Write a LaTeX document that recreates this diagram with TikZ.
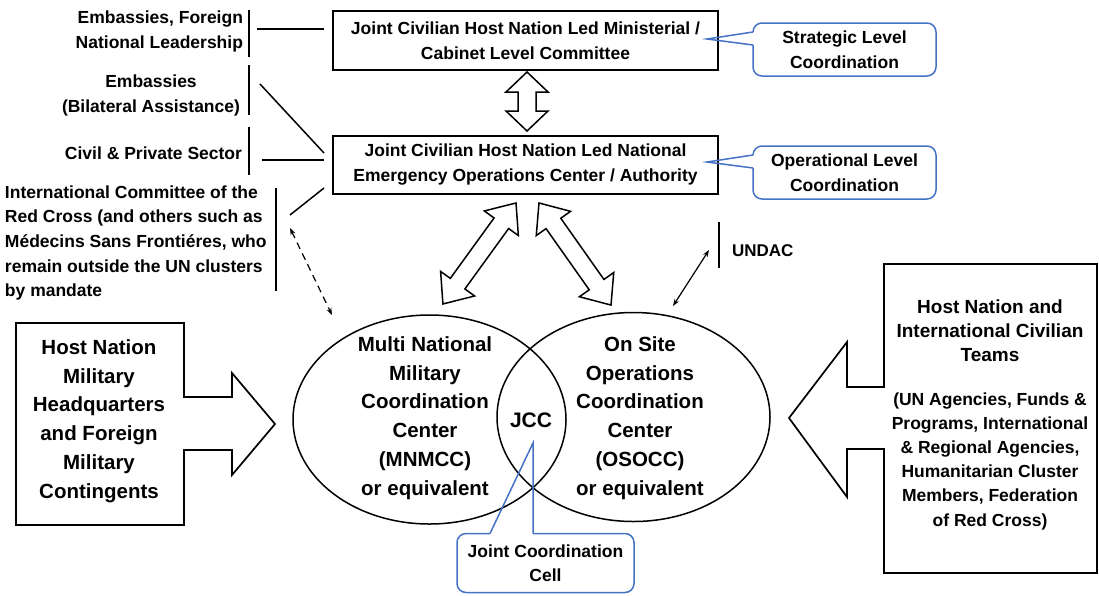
\documentclass[tikz,border=0pt]{standalone}
\usepackage{fontspec}
\setmainfont{Liberation Sans}
\usetikzlibrary{arrows.meta,calc,shapes.geometric}
\definecolor{cblue}{HTML}{4472C4}
% hollow double-headed block arrow: #1 start, #2 angle, #3 length, #4 head length, #5 head half width
\newcommand\dblarr[5]{%
  \begin{scope}[shift={#1},rotate=#2]
    \draw[bigarrow] (0,0) -- (#4,#5) -- (#4,9) -- ({#3-#4},9) -- ({#3-#4},#5) -- (#3,0)
      -- ({#3-#4},-#5) -- ({#3-#4},-9) -- (#4,-9) -- (#4,-#5) -- cycle;
  \end{scope}}
\begin{document}
\begin{tikzpicture}[x=1pt,y=-1pt,
  every node/.style={inner sep=0pt,outer sep=0pt},
  txt/.style={font=\bfseries\fontsize{17.5}{25}\selectfont},
  bigtxt/.style={font=\bfseries\fontsize{20.5}{28.8}\selectfont,align=center},
  box/.style={draw,line width=1.7pt,txt,align=center},
  conn/.style={line width=1.5pt},
  callout/.style={draw=cblue,line width=1.5pt,rounded corners=9pt},
  bigarrow/.style={draw,line width=1.5pt,fill=white,line join=miter},
  thinarrow/.style={line width=1.2pt,{Stealth[length=7pt,width=5pt]}-{Stealth[length=7pt,width=5pt]}}
]
\useasboundingbox (0,0) rectangle (1099,595);

% ---------- top boxes ----------
\node[box,minimum width=385,minimum height=59] (min) at (525.5,40.5)
  {Joint Civilian Host Nation Led Ministerial /\\Cabinet Level Committee};
\node[box,minimum width=385,minimum height=58] (eoc) at (525.5,165)
  {Joint Civilian Host Nation Led National\\Emergency Operations Center / Authority};

% ---------- callouts ----------
\node[txt,align=center,minimum width=183,minimum height=53] (slc) at (844.5,49.5) {Strategic Level\\Coordination};
\coordinate (slctip) at (707,39);
\draw[callout] ($(slc.north west)+(0,9)$) -- (slc.north west) -- (slc.north east) -- (slc.south east) -- (slc.south west) -- ($(slc.north west)+(0,22)$);
\draw[callout,sharp corners] ($(slc.north west)+(0,9)$) -- (slctip) -- ($(slc.north west)+(0,22)$);

\node[txt,align=center,minimum width=183,minimum height=53] (olc) at (844.5,172.5) {Operational Level\\Coordination};
\coordinate (olctip) at (707,162);
\draw[callout] ($(olc.north west)+(0,9)$) -- (olc.north west) -- (olc.north east) -- (olc.south east) -- (olc.south west) -- ($(olc.north west)+(0,22)$);
\draw[callout,sharp corners] ($(olc.north west)+(0,9)$) -- (olctip) -- ($(olc.north west)+(0,22)$);

% ---------- left labels ----------
\node[txt,align=right,anchor=east] (emb1) at (243,31.5) {Embassies, Foreign\\National Leadership};
\node[txt,align=center,anchor=east] (emb2) at (240,95) {Embassies\\(Bilateral Assistance)};
\node[txt,anchor=east] (civ) at (242,153) {Civil \& Private Sector};
\node[txt,align=left,anchor=west,font=\bfseries\fontsize{17.5}{24.6}\selectfont] (icrc) at (5,243)
  {International Committee of the\\Red Cross (and others such as\\Médecins Sans Frontiéres, who\\remain outside the UN clusters\\by mandate};

\draw[conn] (249,10) -- (249,57);
\draw[conn] (257,29) -- (324,29);
\draw[conn] (249,65) -- (249,115);
\draw[conn] (260,84) -- (324,153);
\draw[conn] (249,127) -- (249,175);
\draw[conn] (262,160) -- (324,160);
\draw[conn] (276,188) -- (276,291);
\draw[conn] (290,215) -- (324,188);

% ---------- block double arrows ----------
\dblarr{(527,72)}{-90}{59}{20}{21}
\dblarr{(516,203)}{234.1}{124.6}{25}{21}
\dblarr{(539,203)}{-54.8}{124.9}{25}{21}

% ---------- ellipses ----------
\node[draw,ellipse,line width=1.5pt,minimum width=273,minimum height=209] (mn) at (429.5,419.5) {};
\node[draw,ellipse,line width=1.5pt,minimum width=273,minimum height=209] (os) at (633.5,417) {};
\node[bigtxt] (mntxt) at (425,418) {Multi National\\Military\\Coordination\\Center\\(MNMCC)\\or equivalent};
\node[bigtxt] (ostxt) at (640,418) {On Site\\Operations\\Coordination\\Center\\(OSOCC)\\or equivalent};
\node[font=\bfseries\fontsize{21}{25}\selectfont] (jcc) at (531,420) {JCC};

% ---------- dashed and thin arrows ----------
\coordinate (icrcA) at (290,228);
\coordinate (icrcB) at (332,315);
\draw[thinarrow,dash pattern=on 7pt off 5pt] (icrcA) -- (icrcB);

\node[anchor=west,font=\bfseries\fontsize{17}{20}\selectfont] (undac) at (732,251) {UNDAC};
\draw[conn] (719,222) -- (719,268);
\coordinate (undA) at (673,306);
\coordinate (undB) at (709,250);
\draw[thinarrow] (undA) -- (undB);

% ---------- left block ----------
\draw[bigarrow,line width=1.7pt] (16,323) -- (184,323) -- (184,397) -- (232,397) -- (232,373) -- (275,424)
  -- (232,475) -- (232,450) -- (184,450) -- (184,525) -- (16,525) -- cycle;
\node[bigtxt] (hq) at (99,421) {Host Nation\\Military\\Headquarters\\and Foreign\\Military\\Contingents};

% ---------- right block ----------
\draw[bigarrow,line width=1.7pt] (1097,264) -- (884,264) -- (884,387) -- (847,387) -- (847,342) -- (789,418)
  -- (847,497) -- (847,449) -- (884,449) -- (884,573) -- (1097,573) -- cycle;
\node[align=center,font=\bfseries\fontsize{19}{24}\selectfont] (civt) at (990,331) {Host Nation and\\International Civilian\\Teams};
\node[align=center,font=\bfseries\fontsize{17.5}{24.2}\selectfont] (civb) at (990,461) {(UN Agencies, Funds \&\\Programs, International\\\& Regional Agencies,\\Humanitarian Cluster\\Members, Federation\\of Red Cross)};

% ---------- JCC callout ----------
\node[align=center,minimum width=177,minimum height=59,font=\bfseries\fontsize{17.5}{24}\selectfont] (jcl) at (545.5,563) {Joint Coordination\\Cell};
\coordinate (jcctip) at (533,443);
\draw[callout] ($(jcl.north west)+(76,0)$) -- (jcl.north east) -- (jcl.south east) -- (jcl.south west) -- (jcl.north west) -- ($(jcl.north west)+(33,0)$);
\draw[callout,sharp corners] ($(jcl.north west)+(33,0)$) -- (jcctip) -- ($(jcl.north west)+(76,0)$);
\end{tikzpicture}
\end{document}
